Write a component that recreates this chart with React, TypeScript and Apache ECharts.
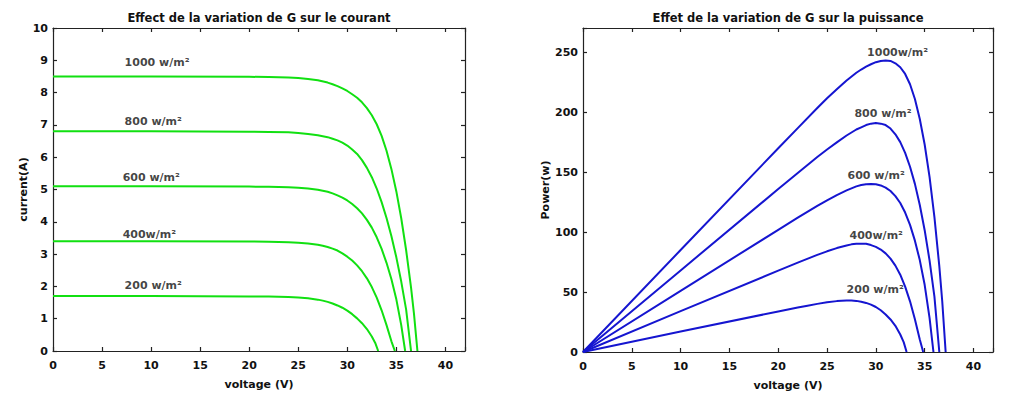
import React, { useEffect, useRef } from "react";
import * as echarts from "echarts";

const FONT = "'DejaVu Sans', sans-serif";

// voltage (V), current (A), power (W)
const v1000 = [0, 10, 20, 22, 24, 25, 26, 27, 28, 28.5, 29, 29.5, 30, 30.5, 31, 31.5, 32, 32.5, 33, 33.5, 34, 34.5, 35, 35.5, 36, 36.5, 36.8, 37.15];
const i1000 = [8.5, 8.5, 8.49, 8.48, 8.47, 8.455, 8.42, 8.38, 8.31, 8.26, 8.2, 8.13, 8.05, 7.95, 7.84, 7.7, 7.52, 7.3, 7.02, 6.66, 6.2, 5.63, 4.94, 4.11, 3.12, 1.96, 1.15, 0];
const p1000 = [0, 85, 169.8, 186.6, 203.3, 211.4, 218.9, 226.3, 232.7, 235.4, 237.8, 239.8, 241.5, 242.5, 243.0, 242.6, 240.6, 237.3, 231.7, 223.1, 210.8, 194.2, 172.9, 145.9, 112.3, 71.5, 42.3, 0];

const v800 = [0, 10, 20, 22, 24, 25, 26, 27, 28, 28.5, 29, 29.5, 30, 30.5, 31, 31.5, 32, 32.5, 33, 33.5, 34, 34.5, 35, 35.5, 36, 36.5];
const i800 = [6.8, 6.8, 6.79, 6.78, 6.77, 6.75, 6.72, 6.68, 6.62, 6.57, 6.52, 6.45, 6.36, 6.24, 6.1, 5.91, 5.67, 5.38, 5.03, 4.61, 4.12, 3.55, 2.9, 2.15, 1.28, 0];
const p800 = [0, 68, 135.8, 149.2, 162.5, 168.8, 174.7, 180.4, 185.4, 187.2, 189.1, 190.3, 190.8, 190.3, 189.1, 186.2, 181.4, 174.9, 166.0, 154.4, 140.1, 122.5, 101.5, 76.3, 46.1, 0];

const v600 = [0, 10, 20, 22, 24, 25, 26, 27, 28, 28.5, 29, 29.5, 30, 30.5, 31, 31.5, 32, 32.5, 33, 33.5, 34, 34.5, 35, 35.5, 35.9];
const i600 = [5.1, 5.1, 5.09, 5.085, 5.07, 5.055, 5.03, 4.99, 4.93, 4.88, 4.82, 4.75, 4.66, 4.55, 4.42, 4.26, 4.06, 3.82, 3.52, 3.16, 2.73, 2.22, 1.6, 0.8, 0];
const p600 = [0, 51, 101.8, 111.9, 121.7, 126.4, 130.8, 134.7, 138.0, 139.1, 139.8, 140.1, 139.8, 138.8, 137.0, 134.2, 129.9, 124.2, 116.2, 105.9, 92.8, 76.6, 56.0, 28.4, 0];

const v400 = [0, 10, 20, 22, 24, 25, 26, 27, 27.5, 28, 28.5, 29, 29.5, 30, 30.5, 31, 31.5, 32, 32.5, 33, 33.5, 34, 34.5, 34.85];
const i400 = [3.4, 3.4, 3.39, 3.385, 3.37, 3.355, 3.33, 3.29, 3.26, 3.22, 3.17, 3.11, 3.02, 2.92, 2.8, 2.65, 2.47, 2.25, 1.98, 1.65, 1.26, 0.8, 0.3, 0];
const p400 = [0, 34, 67.8, 74.5, 80.9, 83.9, 86.6, 88.8, 89.7, 90.2, 90.3, 90.2, 89.1, 87.6, 85.4, 82.2, 77.8, 72.0, 64.4, 54.5, 42.2, 27.2, 10.4, 0];

const v200 = [0, 10, 20, 22, 23, 24, 25, 26, 26.5, 27, 27.5, 28, 28.5, 29, 29.5, 30, 30.5, 31, 31.5, 32, 32.5, 32.85, 33.15];
const i200 = [1.7, 1.7, 1.69, 1.685, 1.68, 1.67, 1.655, 1.63, 1.61, 1.59, 1.56, 1.52, 1.47, 1.41, 1.34, 1.25, 1.14, 1.01, 0.86, 0.68, 0.45, 0.25, 0];
const p200 = [0, 17, 33.8, 37.1, 38.6, 40.1, 41.4, 42.4, 42.7, 42.9, 42.9, 42.6, 41.9, 40.9, 39.5, 37.5, 34.8, 31.3, 27.1, 21.8, 14.6, 8.2, 0];

const voltages = [v1000, v800, v600, v400, v200];
const currents = [i1000, i800, i600, i400, i200];
const powers = [p1000, p800, p600, p400, p200];

// annotations (text and anchor in data coordinates)
const currentLabels = ["1000 w/m²", "800 w/m²", "600 w/m²", "400w/m²", "200 w/m²"];
const currentLabelAt = [[7.3, 8.92], [7.3, 7.09], [7.1, 5.36], [7.1, 3.62], [7.3, 2.04]];
const powerLabels = ["1000w/m²", "800 w/m²", "600 w/m²", "400w/m²", "200 w/m²"];
const powerLabelAt = [[29.1, 250], [27.8, 199], [27.1, 147.5], [27.3, 97.5], [27.0, 51.7]];

const titleLeft = "Effect de la variation de G sur le courant";
const titleRight = "Effet de la variation de G sur la puissance";
const xName = "voltage (V)";
const yNameLeft = "current(A)";
const yNameRight = "Power(w)";

const lineStyle = { color: "#222", width: 1.2 };
const labelFont = { fontFamily: FONT, fontWeight: "bold" as const, fontSize: 11, color: "#111" };

function xAxes(gridIndex: number) {
  return [
    {
      type: "value", gridIndex, min: 0, max: 42, interval: 5, position: "bottom",
      name: xName, nameLocation: "middle", nameGap: 28,
      nameTextStyle: { ...labelFont, fontSize: 11 },
      axisLine: { show: true, onZero: false, lineStyle },
      axisTick: { show: true, inside: true, length: 4, lineStyle },
      axisLabel: { ...labelFont, margin: 9, formatter: (v: number) => (v % 5 === 0 ? String(v) : "") },
      splitLine: { show: false },
    },
    {
      type: "value", gridIndex, min: 0, max: 42, interval: 5, position: "top",
      axisLine: { show: true, onZero: false, lineStyle },
      axisTick: { show: true, inside: true, length: 4, lineStyle },
      axisLabel: { show: false },
      splitLine: { show: false },
    },
  ];
}

function yAxes(gridIndex: number, max: number, interval: number, name: string, gap: number) {
  return [
    {
      type: "value", gridIndex, min: 0, max, interval, position: "left",
      name, nameLocation: "middle", nameGap: gap,
      nameTextStyle: { ...labelFont, fontSize: 11 },
      axisLine: { show: true, onZero: false, lineStyle },
      axisTick: { show: true, inside: true, length: 4, lineStyle },
      axisLabel: { ...labelFont, margin: 5, formatter: (v: number) => (v % interval === 0 ? String(v) : "") },
      splitLine: { show: false },
    },
    {
      type: "value", gridIndex, min: 0, max, interval, position: "right",
      axisLine: { show: true, onZero: false, lineStyle },
      axisTick: { show: true, inside: true, length: 4, lineStyle },
      axisLabel: { show: false },
      splitLine: { show: false },
    },
  ];
}

export default function App() {
  const ref = useRef<HTMLDivElement>(null);
  useEffect(() => {
    document.body.style.margin = "0";
    document.body.style.overflow = "hidden";
    const chart = echarts.init(ref.current!, null, { renderer: "svg" });
    const series: any[] = [];
    voltages.forEach((vs, k) => {
      series.push({
        type: "line", xAxisIndex: 0, yAxisIndex: 0, showSymbol: false, silent: true,
        smooth: false,
        lineStyle: { color: "#11e011", width: 2, join: "round" },
        data: vs.map((v, j) => [v, currents[k][j]]),
      });
      series.push({
        type: "line", xAxisIndex: 2, yAxisIndex: 2, showSymbol: false, silent: true,
        smooth: false,
        lineStyle: { color: "#1515d0", width: 2, join: "round" },
        data: vs.map((v, j) => [v, powers[k][j]]),
      });
    });
    const labelSeries = (xi: number, yi: number, texts: string[], at: number[][]) => ({
      type: "scatter", xAxisIndex: xi, yAxisIndex: yi, symbolSize: 0, silent: true,
      label: {
        show: true, position: [0, 0], align: "left", verticalAlign: "middle",
        formatter: (p: any) => p.name, ...labelFont,
      },
      data: texts.map((t, k) => ({ name: t, value: at[k] })),
    });
    series.push(labelSeries(0, 0, currentLabels, currentLabelAt));
    series.push(labelSeries(2, 2, powerLabels, powerLabelAt));

    chart.setOption({
      animation: false,
      backgroundColor: "#fff",
      grid: [
        { left: 53, top: 28, width: 412, height: 323 },
        { left: 583, top: 28, width: 410, height: 324 },
      ],
      xAxis: [...xAxes(0), ...xAxes(1)],
      yAxis: [...yAxes(0, 10, 1, yNameLeft, 15), ...yAxes(1, 270, 50, yNameRight, 31)],
      graphic: [
        { type: "text", x: 259, y: 18, style: { text: titleLeft, align: "center", verticalAlign: "middle", ...labelFont, fill: "#111", fontSize: 11.5 } },
        { type: "text", x: 788, y: 18, style: { text: titleRight, align: "center", verticalAlign: "middle", ...labelFont, fill: "#111", fontSize: 11.5 } },
      ],
      series,
    });
    return () => chart.dispose();
  }, []);
  return <div ref={ref} style={{ width: 1013, height: 402 }} />;
}
